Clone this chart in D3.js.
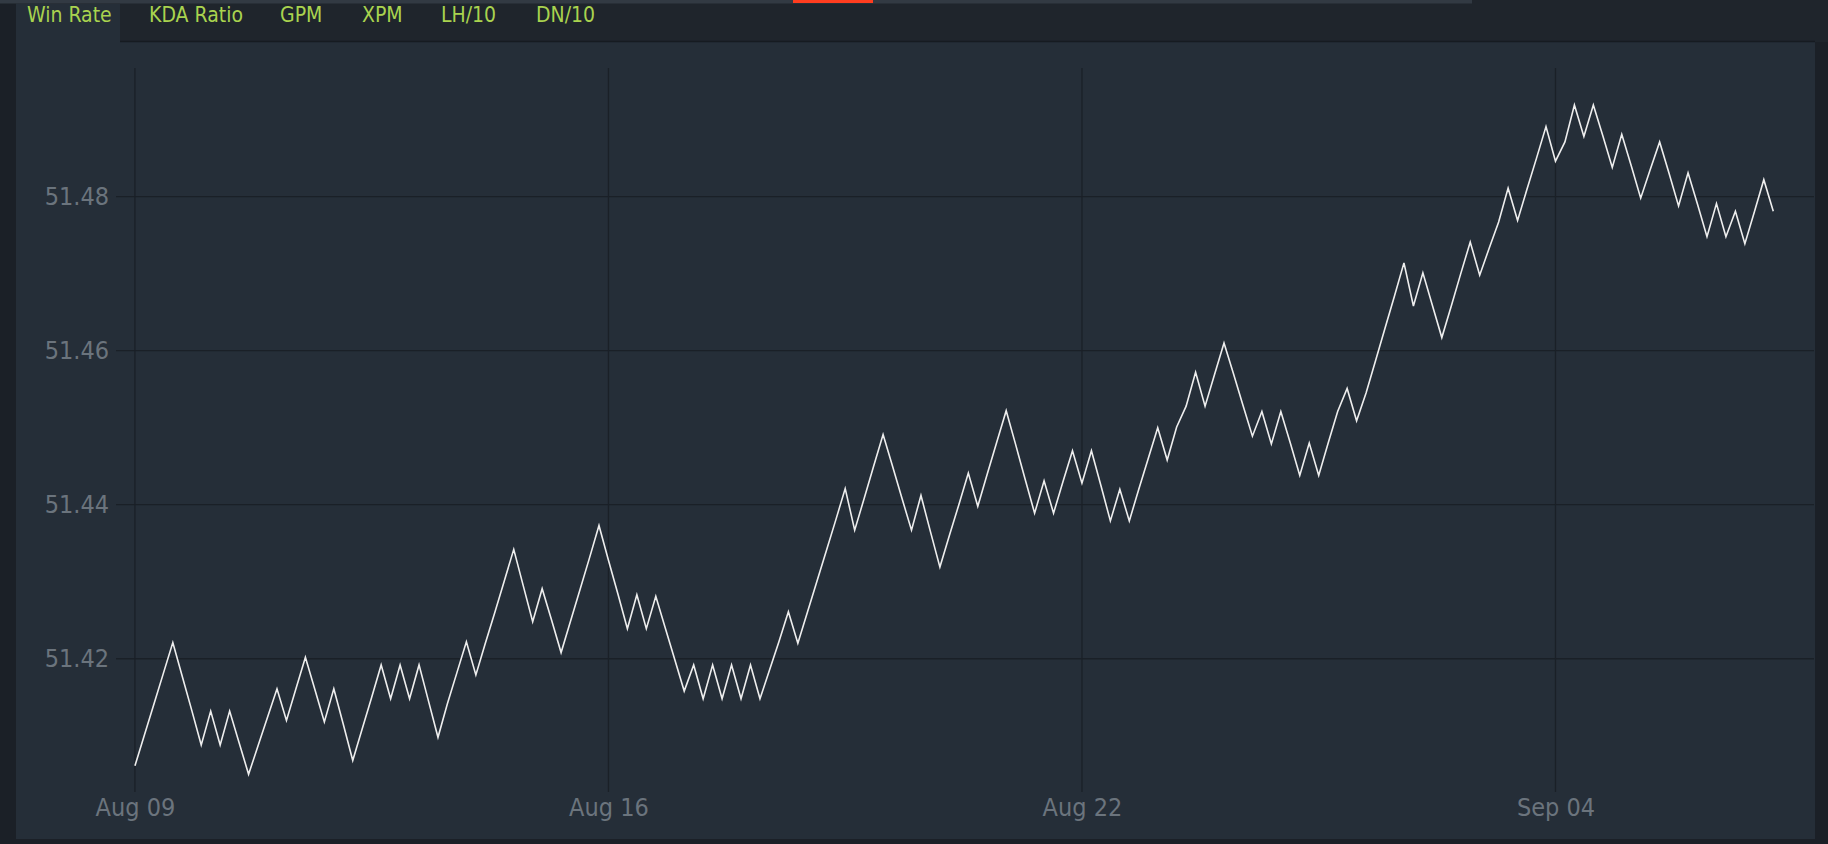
<!DOCTYPE html>
<html>
<head>
<meta charset="utf-8">
<script src="https://cdn.jsdelivr.net/npm/d3@7"></script>
<style>
  html, body { margin: 0; padding: 0; background: #1b2027; overflow: hidden; }
  svg { display: block; font-family: "DejaVu Sans Condensed", "DejaVu Sans", sans-serif; }
</style>
</head>
<body>
<svg id="chart" width="1828" height="844"></svg>
<script>
// tabs above the chart
const tabs = ["Win Rate", "KDA Ratio", "GPM", "XPM", "LH/10", "DN/10"];
const tabX = [27, 149, 280, 362, 441, 536];

// x axis labels, placed at point index
const tickLabels = ["Aug 09", "Aug 16", "Aug 22", "Sep 04"];
const tickIndex = [0, 50, 100, 150];

// y axis ticks
const yTicks = [51.42, 51.44, 51.46, 51.48];

// win rate series (one value per point)
const winRate = [
  51.4061, 51.4101, 51.4141, 51.4181, 51.4221, 51.4177, 51.4133, 51.4088, 51.4132, 51.4088,
  51.4132, 51.4091, 51.4050, 51.4087, 51.4124, 51.4161, 51.4120, 51.4161, 51.4202, 51.4160,
  51.4118, 51.4161, 51.4115, 51.4068, 51.4109, 51.4150, 51.4192, 51.4148, 51.4192, 51.4148,
  51.4192, 51.4145, 51.4098, 51.4142, 51.4182, 51.4222, 51.4179, 51.4220, 51.4260, 51.4301,
  51.4342, 51.4295, 51.4248, 51.4291, 51.4250, 51.4208, 51.4249, 51.4290, 51.4331, 51.4373,
  51.4328, 51.4284, 51.4239, 51.4283, 51.4239, 51.4281, 51.4240, 51.4199, 51.4158, 51.4192,
  51.4148, 51.4192, 51.4148, 51.4192, 51.4148, 51.4192, 51.4148, 51.4185, 51.4222, 51.4261,
  51.4220, 51.4260, 51.4300, 51.4340, 51.4380, 51.4421, 51.4367, 51.4408, 51.4450, 51.4491,
  51.4450, 51.4408, 51.4367, 51.4412, 51.4365, 51.4319, 51.4360, 51.4400, 51.4441, 51.4398,
  51.4440, 51.4481, 51.4522, 51.4478, 51.4433, 51.4389, 51.4431, 51.4389, 51.4430, 51.4470,
  51.4428, 51.4470, 51.4425, 51.4379, 51.4420, 51.4379, 51.4420, 51.4460, 51.4500, 51.4458,
  51.4501, 51.4528, 51.4572, 51.4528, 51.4569, 51.4610, 51.4570, 51.4529, 51.4489, 51.4521,
  51.4479, 51.4521, 51.4480, 51.4438, 51.4480, 51.4438, 51.4480, 51.4521, 51.4551, 51.4509,
  51.4545, 51.4587, 51.4629, 51.4671, 51.4714, 51.4658, 51.4701, 51.4659, 51.4617, 51.4658,
  51.4700, 51.4741, 51.4698, 51.4733, 51.4767, 51.4811, 51.4769, 51.4810, 51.4850, 51.4891,
  51.4846, 51.4871, 51.4919, 51.4878, 51.4919, 51.4879, 51.4838, 51.4881, 51.4840, 51.4798,
  51.4835, 51.4871, 51.4830, 51.4788, 51.4831, 51.4790, 51.4748, 51.4791, 51.4748, 51.4781,
  51.4739, 51.4780, 51.4822, 51.4781
];

const W = 1828, H = 844;
const svg = d3.select("#chart");

// page chrome: header strip, tab bar, panel
svg.append("rect").attr("x", 0).attr("y", 0).attr("width", W).attr("height", H).attr("fill", "#1b2027");
svg.append("rect").attr("x", 16).attr("y", 0).attr("width", W - 16).attr("height", 42).attr("fill", "#1f252c");
svg.append("rect").attr("x", 0).attr("y", 0).attr("width", 1472).attr("height", 3.5).attr("fill", "#323a43");
svg.append("rect").attr("x", 793).attr("y", 0).attr("width", 80).attr("height", 3).attr("fill", "#ff3d1f");
svg.append("rect").attr("x", 16).attr("y", 42).attr("width", 1799).attr("height", 797).attr("fill", "#252e38");
svg.append("line").attr("x1", 120).attr("x2", 1815).attr("y1", 41.5).attr("y2", 41.5)
  .attr("stroke", "#161b21").attr("stroke-width", 1.5);
// active tab
svg.append("rect").attr("x", 16).attr("y", 4).attr("width", 104).attr("height", 39).attr("fill", "#252e38");

svg.append("g")
  .selectAll("text")
  .data(tabs)
  .join("text")
  .attr("x", (d, i) => tabX[i])
  .attr("y", 22)
  .attr("font-size", 21)
  .attr("fill", "#a9d34f")
  .text((d) => d);

// scales
const x = d3.scaleLinear().domain([-2, 177.3]).range([116, 1814]);
const y = d3.scaleLinear().domain([51.4027, 51.4967]).range([792, 68]);

// grid
svg.append("g")
  .selectAll("line")
  .data(yTicks)
  .join("line")
  .attr("x1", 116)
  .attr("x2", 1814)
  .attr("y1", (d) => y(d))
  .attr("y2", (d) => y(d))
  .attr("stroke", "#1a2027")
  .attr("stroke-width", 1.3);

svg.append("g")
  .selectAll("line")
  .data(tickIndex)
  .join("line")
  .attr("x1", (d) => x(d))
  .attr("x2", (d) => x(d))
  .attr("y1", 68)
  .attr("y2", 792)
  .attr("stroke", "#1a2027")
  .attr("stroke-width", 1.3);

// axes (labels only)
const yAxis = svg.append("g")
  .attr("transform", "translate(116,0)")
  .call(d3.axisLeft(y).tickValues(yTicks).tickFormat(d3.format(".2f")).tickSize(0).tickPadding(7));
yAxis.select(".domain").remove();
yAxis.selectAll("text").attr("fill", "#6b747d").attr("font-size", 25)
  .attr("font-family", "DejaVu Sans Condensed, DejaVu Sans, sans-serif");

const xAxis = svg.append("g")
  .attr("transform", "translate(0,792)")
  .call(d3.axisBottom(x).tickValues(tickIndex).tickFormat((d, i) => tickLabels[i]).tickSize(0).tickPadding(6));
xAxis.select(".domain").remove();
xAxis.selectAll("text").attr("fill", "#6b747d").attr("font-size", 25)
  .attr("font-family", "DejaVu Sans Condensed, DejaVu Sans, sans-serif");

// the series
const line = d3.line()
  .x((d, i) => x(i))
  .y((d) => y(d));

svg.append("path")
  .datum(winRate)
  .attr("d", line)
  .attr("fill", "none")
  .attr("stroke", "#eeeeee")
  .attr("stroke-width", 1.6)
  .attr("stroke-linejoin", "miter");
</script>
</body>
</html>
